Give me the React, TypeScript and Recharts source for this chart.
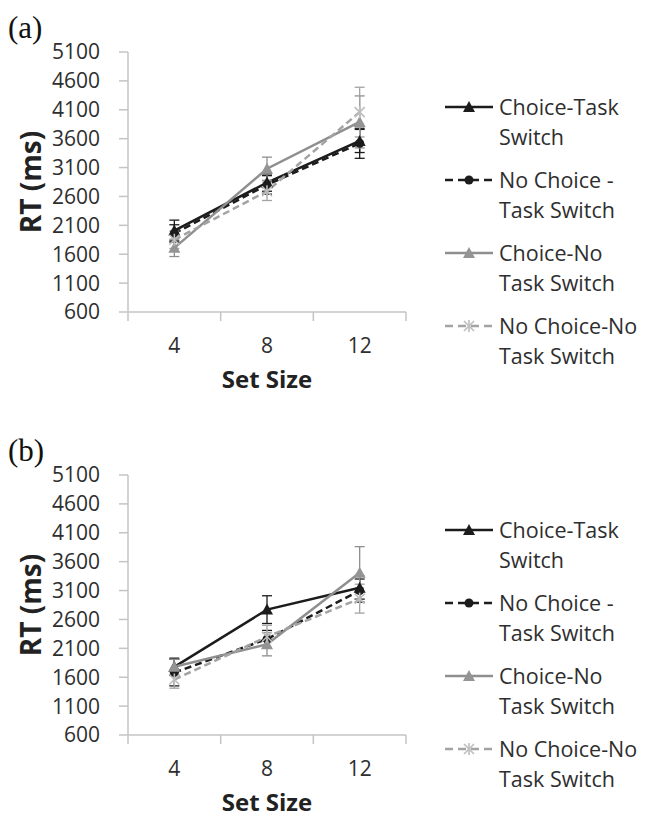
import React from 'react';
import { LineChart, Line, XAxis, YAxis, ErrorBar, Legend } from 'recharts';

// set sizes on the x axis
const setSizes = [4, 8, 12];
const xTicks = [2, 4, 6, 8, 10, 12, 14];
const yTicks = [600, 1100, 1600, 2100, 2600, 3100, 3600, 4100, 4600, 5100];

// panel (a)
const ctsA = [2010, 2840, 3560];
const ctsAErr = [180, 150, 200];
const nctsA = [1960, 2800, 3520];
const nctsAErr = [150, 160, 260];
const cntsA = [1710, 3080, 3890];
const cntsAErr = [150, 200, 450];
const ncntsA = [1850, 2690, 4060];
const ncntsAErr = [150, 160, 430];

// panel (b)
const ctsB = [1780, 2770, 3150];
const ctsBErr = [150, 240, 200];
const nctsB = [1680, 2260, 3100];
const nctsBErr = [230, 150, 200];
const cntsB = [1780, 2170, 3410];
const cntsBErr = [130, 200, 450];
const ncntsB = [1560, 2300, 2960];
const ncntsBErr = [150, 200, 250];

const FONT = '"Open Sans", sans-serif';
const AXIS = '#c4c4c4';
const TEXT = '#2e2e2e';

const SERIES = [
  { key: 'cts', name: ['Choice-Task', 'Switch'], color: '#1c1c1c', marker: '#1c1c1c', dash: undefined, shape: 'triangle' },
  { key: 'ncts', name: ['No Choice -', 'Task Switch'], color: '#1c1c1c', marker: '#1c1c1c', dash: '7 4', shape: 'circle' },
  { key: 'cnts', name: ['Choice-No', 'Task Switch'], color: '#8f8f8f', marker: '#949494', dash: undefined, shape: 'triangle' },
  { key: 'ncnts', name: ['No Choice-No', 'Task Switch'], color: '#a3a3a3', marker: '#bdbdbd', dash: '7 4', shape: 'star' },
];

const drawMarker = (shape: string, color: string, cx: number, cy: number, key?: string) => {
  if (shape === 'triangle') {
    return <path key={key} d={`M${cx},${cy - 6} L${cx + 6},${cy + 5} L${cx - 6},${cy + 5} Z`} fill={color} />;
  }
  if (shape === 'circle') {
    return <circle key={key} cx={cx} cy={cy} r={4.5} fill={color} />;
  }
  return (
    <g key={key} stroke={color} strokeWidth={1.6}>
      <line x1={cx - 5} y1={cy - 5} x2={cx + 5} y2={cy + 5} />
      <line x1={cx - 5} y1={cy + 5} x2={cx + 5} y2={cy - 5} />
      <line x1={cx} y1={cy - 6} x2={cx} y2={cy + 6} />
    </g>
  );
};

const XTick = (props: any) => {
  const { x, y, payload } = props;
  const v = payload.value;
  if (setSizes.includes(v)) {
    return (
      <text x={x} y={y + 33} textAnchor="middle" dominantBaseline="central" fill={TEXT} fontSize={21} fontFamily={FONT}>
        {v}
      </text>
    );
  }
  return <line x1={x} y1={y} x2={x} y2={y + 9} stroke={AXIS} strokeWidth={1.5} />;
};

const renderLegend = () => (
  <div style={{ fontFamily: FONT, fontSize: 21.5, color: TEXT }}>
    {SERIES.map((s) => (
      <div key={s.key} style={{ display: 'flex', alignItems: 'flex-start', height: 73 }}>
        <svg width={52} height={30} style={{ flex: 'none' }}>
          <line x1={2} y1={15} x2={50} y2={15} stroke={s.color} strokeWidth={2.5} strokeDasharray={s.dash ? '8 5' : undefined} />
          {drawMarker(s.shape, s.marker, 26, 15)}
        </svg>
        <div style={{ marginLeft: 4, lineHeight: '30px', whiteSpace: 'nowrap' }}>
          <div>{s.name[0]}</div>
          <div>{s.name[1]}</div>
        </div>
      </div>
    ))}
  </div>
);

interface PanelProps {
  tag: string;
  top: number;
  cts: number[];
  ctsErr: number[];
  ncts: number[];
  nctsErr: number[];
  cnts: number[];
  cntsErr: number[];
  ncnts: number[];
  ncntsErr: number[];
}

const Panel: React.FC<PanelProps> = (p) => {
  const data = setSizes.map((size, i) => ({
    size,
    cts: p.cts[i],
    ctsErr: p.ctsErr[i],
    ncts: p.ncts[i],
    nctsErr: p.nctsErr[i],
    cnts: p.cnts[i],
    cntsErr: p.cntsErr[i],
    ncnts: p.ncnts[i],
    ncntsErr: p.ncntsErr[i],
  }));

  return (
    <div style={{ position: 'absolute', left: 0, top: p.top, width: 646, height: 400 }}>
      <div
        style={{
          position: 'absolute',
          left: 8,
          top: 12,
          fontFamily: '"Liberation Serif", serif',
          fontSize: 31,
          lineHeight: '31px',
          color: '#111',
        }}
      >
        {p.tag}
      </div>
      <LineChart width={646} height={400} data={data} margin={{ top: 52, right: 240, bottom: 28, left: 0 }}>
        <XAxis
          type="number"
          dataKey="size"
          domain={[2, 14]}
          ticks={xTicks}
          interval={0}
          tickSize={0}
          tickMargin={0}
          tickLine={false}
          height={60}
          axisLine={{ stroke: AXIS, strokeWidth: 1.5 }}
          tick={<XTick />}
          label={{
            value: 'Set Size',
            position: 'bottom',
            offset: -1,
            style: { fontFamily: FONT, fontSize: 24, fontWeight: 700, fill: '#222' },
          }}
        />
        <YAxis
          type="number"
          domain={[600, 5100]}
          ticks={yTicks}
          interval={0}
          width={128}
          tickSize={9}
          tickMargin={19}
          axisLine={{ stroke: AXIS, strokeWidth: 1.5 }}
          tickLine={{ stroke: AXIS, strokeWidth: 1.5 }}
          tick={{ fill: TEXT, fontSize: 21, fontFamily: FONT }}
          label={(props: any) => {
            const vb = props.viewBox;
            const cy = vb.y + vb.height / 2;
            return (
              <text
                x={30}
                y={cy}
                transform={`rotate(-90, 30, ${cy})`}
                textAnchor="middle"
                dominantBaseline="central"
                fontFamily={FONT}
                fontSize={28}
                fontWeight={700}
                fill="#222"
              >
                RT (ms)
              </text>
            );
          }}
        />
        <Legend
          layout="vertical"
          align="center"
          verticalAlign="middle"
          content={renderLegend}
          wrapperStyle={{ left: 443, top: 92, width: 203 }}
        />
        {SERIES.map((s) => (
          <Line
            key={s.key}
            dataKey={s.key}
            type="linear"
            stroke={s.color}
            strokeWidth={2.5}
            strokeDasharray={s.dash}
            isAnimationActive={false}
            dot={(d: any) => drawMarker(s.shape, s.marker, d.cx, d.cy, `${s.key}-${d.index}`)}
            activeDot={false}
          >
            <ErrorBar dataKey={`${s.key}Err`} direction="y" width={5} stroke={s.color} strokeWidth={1.3} />
          </Line>
        ))}
      </LineChart>
    </div>
  );
};

export default function App() {
  return (
    <div style={{ position: 'absolute', left: 0, top: 0, width: 646, height: 817, background: '#fff' }}>
      <Panel
        tag="(a)"
        top={0}
        cts={ctsA}
        ctsErr={ctsAErr}
        ncts={nctsA}
        nctsErr={nctsAErr}
        cnts={cntsA}
        cntsErr={cntsAErr}
        ncnts={ncntsA}
        ncntsErr={ncntsAErr}
      />
      <Panel
        tag="(b)"
        top={423}
        cts={ctsB}
        ctsErr={ctsBErr}
        ncts={nctsB}
        nctsErr={nctsBErr}
        cnts={cntsB}
        cntsErr={cntsBErr}
        ncnts={ncntsB}
        ncntsErr={ncntsBErr}
      />
    </div>
  );
}
